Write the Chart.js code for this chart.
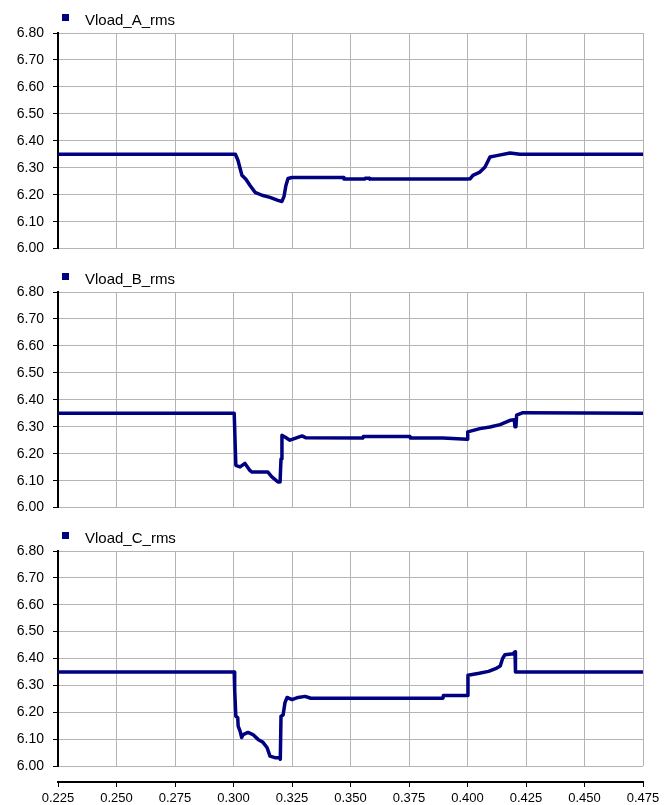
<!DOCTYPE html>
<html>
<head>
<meta charset="utf-8">
<script src="https://cdn.jsdelivr.net/npm/chart.js@4.4.1/dist/chart.umd.min.js"></script>
<style>
  body { margin: 0; background: #fff; }
  #container { position: relative; width: 665px; height: 805px; }
  canvas { position: absolute; left: 0; }
  .legend { position: absolute; left: 0; width: 300px; height: 20px;
            font: 15px "Liberation Sans", Arial, sans-serif; line-height: 15px; color: #000; }
  .legend .box { position: absolute; left: 62px; top: 2px; width: 7px; height: 7px; background: #000080; }
  .legend .text { position: absolute; left: 85px; top: 0; white-space: nowrap; }
</style>
</head>
<body>
<div id="container">
  <canvas id="chartA" width="665" height="266" style="top:0px"></canvas>
  <canvas id="chartB" width="665" height="266" style="top:259px"></canvas>
  <canvas id="chartC" width="665" height="287" style="top:518px"></canvas>
</div>

<script>
    // time (s) and rms voltage
    var aTime = [0.225, 0.3008, 0.3019, 0.3028, 0.3036, 0.3053, 0.3070, 0.3092, 0.3122, 0.3156, 0.3190, 0.3207, 0.3216, 0.3224, 0.3233, 0.3250, 0.3470, 0.3472, 0.3560, 0.3563, 0.3580, 0.3582, 0.4000, 0.4011, 0.4023, 0.4053, 0.4075, 0.4096, 0.4130, 0.4182, 0.4224, 0.475];
    var aVolt = [6.35, 6.35, 6.328, 6.298, 6.272, 6.257, 6.235, 6.209, 6.198, 6.190, 6.179, 6.175, 6.194, 6.234, 6.260, 6.264, 6.264, 6.258, 6.258, 6.261, 6.261, 6.258, 6.258, 6.259, 6.272, 6.284, 6.303, 6.340, 6.346, 6.355, 6.350, 6.35];

    var bTime = [0.225, 0.3003, 0.3010, 0.3028, 0.3049, 0.3070, 0.3079, 0.3147, 0.3164, 0.3190, 0.3199, 0.3203, 0.3207, 0.3220, 0.3241, 0.3263, 0.3293, 0.3310, 0.3553, 0.3555, 0.3754, 0.3756, 0.3895, 0.3998, 0.4000, 0.4002, 0.4053, 0.4096, 0.4139, 0.4182, 0.4200, 0.4203, 0.4207, 0.4210, 0.4237, 0.475];
    var bVolt = [6.35, 6.35, 6.157, 6.151, 6.164, 6.138, 6.132, 6.132, 6.114, 6.095, 6.095, 6.180, 6.268, 6.262, 6.250, 6.257, 6.266, 6.259, 6.258, 6.264, 6.264, 6.258, 6.258, 6.254, 6.262, 6.281, 6.293, 6.299, 6.308, 6.324, 6.326, 6.300, 6.302, 6.343, 6.352, 6.35];

    var cTime = [0.225, 0.3003, 0.3005, 0.3010, 0.3018, 0.3020, 0.3028, 0.3035, 0.3041, 0.3062, 0.3083, 0.3105, 0.3126, 0.3143, 0.3156, 0.3177, 0.3196, 0.3200, 0.3203, 0.3212, 0.3220, 0.3229, 0.3250, 0.3276, 0.3306, 0.3330, 0.3895, 0.3897, 0.3998, 0.4002, 0.4050, 0.4090, 0.4120, 0.4140, 0.4150, 0.4160, 0.4195, 0.4203, 0.4205, 0.475];
    var cVolt = [6.35, 6.35, 6.284, 6.185, 6.180, 6.148, 6.130, 6.106, 6.117, 6.125, 6.117, 6.099, 6.088, 6.069, 6.037, 6.031, 6.031, 6.025, 6.185, 6.190, 6.236, 6.255, 6.247, 6.255, 6.259, 6.252, 6.252, 6.262, 6.262, 6.338, 6.345, 6.352, 6.362, 6.372, 6.400, 6.414, 6.418, 6.425, 6.350, 6.35];

    var seriesNames = ['Vload_A_rms', 'Vload_B_rms', 'Vload_C_rms'];
    var xTicks = [0.225, 0.250, 0.275, 0.300, 0.325, 0.350, 0.375, 0.400, 0.425, 0.450, 0.475];
    var yTicks = [6.00, 6.10, 6.20, 6.30, 6.40, 6.50, 6.60, 6.70, 6.80];

    Chart.defaults.font.family = '"Liberation Sans", Arial, sans-serif';
    Chart.defaults.color = '#000';

    var navy = '#000080';
    var gridGray = '#b4b4b4';

    function toPoints(times, volts) {
        var pts = [];
        for (var i = 0; i < times.length; i++) {
            pts.push({x: times[i], y: volts[i]});
        }
        return pts;
    }

    function useTicks(list) {
        return function(scale) {
            scale.ticks = list.map(function(v) { return {value: v}; });
        };
    }

    // small html legend above each panel (square + series name)
    function addLegend(chart, top) {
        var div = document.createElement('div');
        div.className = 'legend';
        div.style.top = top + 'px';
        var box = document.createElement('span');
        box.className = 'box';
        box.style.background = chart.data.datasets[0].borderColor;
        var txt = document.createElement('span');
        txt.className = 'text';
        txt.textContent = chart.data.datasets[0].label;
        div.appendChild(box);
        div.appendChild(txt);
        document.getElementById('container').appendChild(div);
    }

    function makeChart(id, label, times, volts, showTimeAxis) {
        var scales = {
            x: {
                type: 'linear',
                min: xTicks[0],
                max: xTicks[xTicks.length - 1],
                afterBuildTicks: useTicks(xTicks),
                ticks: {display: false},
                grid: {color: gridGray, drawTicks: false},
                border: {display: false},
                afterFit: function(scale) { scale.height = showTimeAxis ? 16 : 0; }
            },
            y: {
                min: yTicks[0],
                max: yTicks[yTicks.length - 1],
                afterBuildTicks: useTicks(yTicks),
                ticks: {
                    padding: 9,
                    font: {size: 14},
                    callback: function(v) { return v.toFixed(2); }
                },
                grid: {color: gridGray, tickColor: '#000', tickLength: 5},
                border: {color: '#000', width: 2},
                afterFit: function(scale) { scale.width = 58; }
            }
        };

        if (showTimeAxis) {
            scales.x2 = {
                type: 'linear',
                position: 'bottom',
                min: xTicks[0],
                max: xTicks[xTicks.length - 1],
                afterBuildTicks: useTicks(xTicks),
                ticks: {
                    padding: 4,
                    font: {size: 13},
                    maxRotation: 0,
                    autoSkip: false,
                    callback: function(v) { return v.toFixed(3); }
                },
                grid: {drawOnChartArea: false, color: '#000', tickLength: 5},
                border: {color: '#000', width: 2},
                afterFit: function(scale) { scale.height = 23; }
            };
        }

        return new Chart(document.getElementById(id).getContext('2d'), {
            type: 'line',
            data: {
                datasets: [{
                    label: label,
                    data: toPoints(times, volts),
                    borderColor: navy,
                    backgroundColor: navy,
                    borderWidth: 3.5,
                    borderJoinStyle: 'round',
                    pointRadius: 0,
                    tension: 0
                }]
            },
            options: {
                responsive: false,
                animation: false,
                layout: {padding: {left: 0, right: 22, top: 33, bottom: showTimeAxis ? 0 : 12}},
                plugins: {
                    legend: {display: false},
                    tooltip: {enabled: false}
                },
                scales: scales
            }
        });
    }

    var chartA = makeChart('chartA', seriesNames[0], aTime, aVolt, false);
    var chartB = makeChart('chartB', seriesNames[1], bTime, bVolt, false);
    var chartC = makeChart('chartC', seriesNames[2], cTime, cVolt, true);

    addLegend(chartA, 12);
    addLegend(chartB, 271);
    addLegend(chartC, 530);
</script>
</body>
</html>
